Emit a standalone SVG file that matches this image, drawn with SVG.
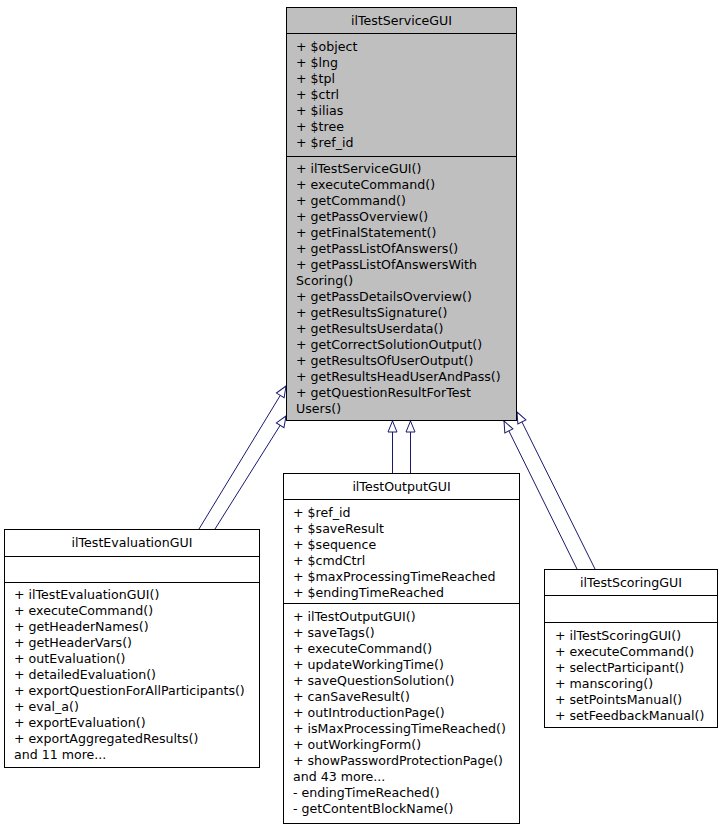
<svg xmlns="http://www.w3.org/2000/svg" width="723" height="832" viewBox="0 0 723 832">
<style>
text{font-family:"DejaVu Sans","Liberation Sans",sans-serif;font-size:12.6px;fill:#000}
.t{text-anchor:middle}
.box{stroke:#000;stroke-width:1}
.base{fill:#bfbfbf}
.cls{fill:#fff}
.sep{stroke:#000;stroke-width:1}
.edge{fill:none;stroke:#191970;stroke-width:1;marker-end:url(#inh)}
</style>
<defs>
<marker id="inh" markerUnits="userSpaceOnUse" viewBox="-12 -6 13 12" refX="0" refY="0" markerWidth="13" markerHeight="12" orient="auto">
<path d="M0,0 L-11,-4.5 L-11,4.5 Z" fill="#fff" stroke="#191970" stroke-width="1"/>
</marker>
</defs>
<g id="connectors">
<path class="edge" d="M199,529 L286,386"/>
<path class="edge" d="M215,529 L286,416"/>
<path class="edge" d="M392.5,473 L392.5,421"/>
<path class="edge" d="M410.5,473 L410.5,421"/>
<path class="edge" d="M577,569 L504,421"/>
<path class="edge" d="M595,569 L517,412"/>
</g>
<g id="ilTestServiceGUI">
<rect class="box base" x="286.5" y="7.5" width="230" height="413"/>
<line class="sep" x1="286.5" y1="33.5" x2="516.5" y2="33.5"/>
<line class="sep" x1="286.5" y1="156.5" x2="516.5" y2="156.5"/>
<text class="t" x="401.5" y="25">ilTestServiceGUI</text>
<text x="296" y="51">+ $object</text>
<text x="296" y="67">+ $lng</text>
<text x="296" y="83">+ $tpl</text>
<text x="296" y="99">+ $ctrl</text>
<text x="296" y="115">+ $ilias</text>
<text x="296" y="131">+ $tree</text>
<text x="296" y="147">+ $ref_id</text>
<text x="296" y="173">+ ilTestServiceGUI()</text>
<text x="296" y="189">+ executeCommand()</text>
<text x="296" y="205">+ getCommand()</text>
<text x="296" y="221">+ getPassOverview()</text>
<text x="296" y="237">+ getFinalStatement()</text>
<text x="296" y="253">+ getPassListOfAnswers()</text>
<text x="296" y="269">+ getPassListOfAnswersWith</text>
<text x="296" y="285">Scoring()</text>
<text x="296" y="301">+ getPassDetailsOverview()</text>
<text x="296" y="317">+ getResultsSignature()</text>
<text x="296" y="333">+ getResultsUserdata()</text>
<text x="296" y="349">+ getCorrectSolutionOutput()</text>
<text x="296" y="365">+ getResultsOfUserOutput()</text>
<text x="296" y="381">+ getResultsHeadUserAndPass()</text>
<text x="296" y="397">+ getQuestionResultForTest</text>
<text x="296" y="413">Users()</text>
</g>
<g id="ilTestEvaluationGUI">
<rect class="box cls" x="4.5" y="529.5" width="255" height="238"/>
<line class="sep" x1="4.5" y1="556.5" x2="259.5" y2="556.5"/>
<line class="sep" x1="4.5" y1="582.5" x2="259.5" y2="582.5"/>
<text class="t" x="132" y="547">ilTestEvaluationGUI</text>
<text x="14" y="599">+ ilTestEvaluationGUI()</text>
<text x="14" y="615">+ executeCommand()</text>
<text x="14" y="631">+ getHeaderNames()</text>
<text x="14" y="647">+ getHeaderVars()</text>
<text x="14" y="663">+ outEvaluation()</text>
<text x="14" y="679">+ detailedEvaluation()</text>
<text x="14" y="695">+ exportQuestionForAllParticipants()</text>
<text x="14" y="711">+ eval_a()</text>
<text x="14" y="727">+ exportEvaluation()</text>
<text x="14" y="743">+ exportAggregatedResults()</text>
<text x="14" y="759">and 11 more...</text>
</g>
<g id="ilTestOutputGUI">
<rect class="box cls" x="283.5" y="473.5" width="236" height="350"/>
<line class="sep" x1="283.5" y1="499.5" x2="519.5" y2="499.5"/>
<line class="sep" x1="283.5" y1="603.5" x2="519.5" y2="603.5"/>
<text class="t" x="401.5" y="491">ilTestOutputGUI</text>
<text x="293" y="517">+ $ref_id</text>
<text x="293" y="533">+ $saveResult</text>
<text x="293" y="549">+ $sequence</text>
<text x="293" y="565">+ $cmdCtrl</text>
<text x="293" y="581">+ $maxProcessingTimeReached</text>
<text x="293" y="597">+ $endingTimeReached</text>
<text x="293" y="621">+ ilTestOutputGUI()</text>
<text x="293" y="637">+ saveTags()</text>
<text x="293" y="653">+ executeCommand()</text>
<text x="293" y="669">+ updateWorkingTime()</text>
<text x="293" y="685">+ saveQuestionSolution()</text>
<text x="293" y="701">+ canSaveResult()</text>
<text x="293" y="717">+ outIntroductionPage()</text>
<text x="293" y="733">+ isMaxProcessingTimeReached()</text>
<text x="293" y="749">+ outWorkingForm()</text>
<text x="293" y="765">+ showPasswordProtectionPage()</text>
<text x="293" y="781">and 43 more...</text>
<text x="293" y="797">- endingTimeReached()</text>
<text x="293" y="813">- getContentBlockName()</text>
</g>
<g id="ilTestScoringGUI">
<rect class="box cls" x="544.5" y="569.5" width="173" height="158"/>
<line class="sep" x1="544.5" y1="595.5" x2="717.5" y2="595.5"/>
<line class="sep" x1="544.5" y1="622.5" x2="717.5" y2="622.5"/>
<text class="t" x="631" y="587">ilTestScoringGUI</text>
<text x="555" y="640">+ ilTestScoringGUI()</text>
<text x="555" y="656">+ executeCommand()</text>
<text x="555" y="672">+ selectParticipant()</text>
<text x="555" y="688">+ manscoring()</text>
<text x="555" y="704">+ setPointsManual()</text>
<text x="555" y="720">+ setFeedbackManual()</text>
</g>
</svg>
